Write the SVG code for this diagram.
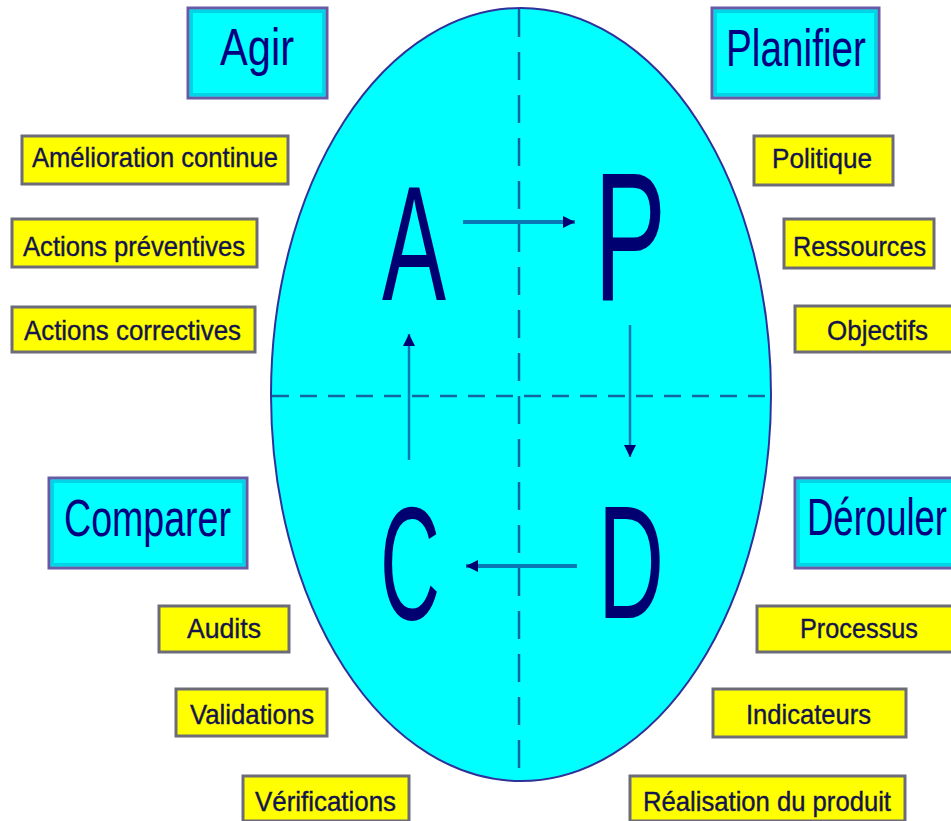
<svg xmlns="http://www.w3.org/2000/svg" width="951" height="821" viewBox="0 0 951 821">
<defs>
<style>
.cbox{fill:#00ffff;stroke:#6a5aa6;stroke-width:3}
.cin{fill:none;stroke:#00d4e6;stroke-width:3}
.ybox{fill:#ffff00;stroke:#6c6c78;stroke-width:3}
.big{font-family:"Liberation Sans",Arial,sans-serif;font-size:52px;fill:#000080}
.small{font-family:"Liberation Sans",Arial,sans-serif;font-size:28px;fill:#14144e;stroke:#14144e;stroke-width:0.4}
.letter{font-family:"Liberation Sans",Arial,sans-serif;fill:#000070}
.dash{stroke:#1464a0;stroke-width:2.5;fill:none}
.shaft{stroke:#0a78b4;fill:none}
</style>
<marker id="ah" markerUnits="userSpaceOnUse" markerWidth="14" markerHeight="14" refX="12" refY="7" orient="auto">
<path d="M0,1 L12,7 L0,13 Z" fill="#000070"/>
</marker>
</defs>
<rect width="951" height="821" fill="#ffffff"/>

<g id="cycle">
<ellipse cx="521" cy="394.5" rx="250" ry="386.5" fill="#00ffff" stroke="#30309a" stroke-width="2"/>
<line class="dash" x1="272" y1="396" x2="770" y2="396" stroke-dasharray="17 11"/>
<line class="dash" x1="519" y1="9" x2="519" y2="780" stroke-dasharray="28 15"/>
</g>

<g id="letter-A"><text class="letter" x="382" y="300" font-size="163" textLength="64" lengthAdjust="spacingAndGlyphs">A</text></g>
<g id="letter-P"><text class="letter" x="594" y="300" font-size="184" textLength="72" lengthAdjust="spacingAndGlyphs">P</text></g>
<g id="letter-C"><text class="letter" x="380" y="619" font-size="162" textLength="60" lengthAdjust="spacingAndGlyphs">C</text></g>
<g id="letter-D"><text class="letter" x="598" y="618" font-size="162" textLength="66" lengthAdjust="spacingAndGlyphs">D</text></g>

<g id="connectors">
<line class="shaft" x1="463" y1="222" x2="575" y2="222" stroke-width="4" marker-end="url(#ah)"/>
<line class="shaft" x1="630" y1="325" x2="630" y2="457" stroke-width="2.5" marker-end="url(#ah)"/>
<line class="shaft" x1="577" y1="566" x2="466" y2="566" stroke-width="4" marker-end="url(#ah)"/>
<line class="shaft" x1="409" y1="460" x2="409" y2="334" stroke-width="2.5" marker-end="url(#ah)"/>
</g>

<g id="agir">
<rect class="cbox" x="188" y="8" width="139" height="90"/>
<rect class="cin" x="191.5" y="11.5" width="132" height="83"/>
<text class="big" x="220" y="65" textLength="74" lengthAdjust="spacingAndGlyphs">Agir</text>
</g>
<g id="planifier">
<rect class="cbox" x="712" y="8" width="167" height="90"/>
<rect class="cin" x="715.5" y="11.5" width="160" height="83"/>
<text class="big" x="726" y="66" textLength="140" lengthAdjust="spacingAndGlyphs">Planifier</text>
</g>
<g id="comparer">
<rect class="cbox" x="49" y="478" width="198" height="90"/>
<rect class="cin" x="52.5" y="481.5" width="191" height="83"/>
<text class="big" x="64" y="536" textLength="167" lengthAdjust="spacingAndGlyphs">Comparer</text>
</g>
<g id="derouler">
<rect class="cbox" x="795" y="478" width="170" height="90"/>
<rect class="cin" x="798.5" y="481.5" width="163" height="83"/>
<text class="big" x="807" y="535" textLength="140" lengthAdjust="spacingAndGlyphs">Dérouler</text>
</g>

<g id="amelioration">
<rect class="ybox" x="22" y="136" width="266" height="48"/>
<text class="small" x="32" y="167" textLength="246" lengthAdjust="spacingAndGlyphs">Amélioration continue</text>
</g>
<g id="preventives">
<rect class="ybox" x="12" y="219" width="245" height="48"/>
<text class="small" x="23" y="256" textLength="222" lengthAdjust="spacingAndGlyphs">Actions préventives</text>
</g>
<g id="correctives">
<rect class="ybox" x="12" y="307" width="243" height="45"/>
<text class="small" x="24" y="340" textLength="217" lengthAdjust="spacingAndGlyphs">Actions correctives</text>
</g>
<g id="politique">
<rect class="ybox" x="754" y="136" width="139" height="49"/>
<text class="small" x="772" y="168" textLength="100" lengthAdjust="spacingAndGlyphs">Politique</text>
</g>
<g id="ressources">
<rect class="ybox" x="784" y="219" width="150" height="49"/>
<text class="small" x="793" y="256" textLength="133" lengthAdjust="spacingAndGlyphs">Ressources</text>
</g>
<g id="objectifs">
<rect class="ybox" x="795" y="306" width="170" height="46"/>
<text class="small" x="827" y="340" textLength="101" lengthAdjust="spacingAndGlyphs">Objectifs</text>
</g>
<g id="audits">
<rect class="ybox" x="159" y="606" width="130" height="46"/>
<text class="small" x="187" y="638" textLength="74" lengthAdjust="spacingAndGlyphs">Audits</text>
</g>
<g id="validations">
<rect class="ybox" x="176" y="689" width="151" height="47"/>
<text class="small" x="190" y="724" textLength="124" lengthAdjust="spacingAndGlyphs">Validations</text>
</g>
<g id="verifications">
<rect class="ybox" x="243" y="776" width="166" height="45"/>
<text class="small" x="255" y="811" textLength="141" lengthAdjust="spacingAndGlyphs">Vérifications</text>
</g>
<g id="processus">
<rect class="ybox" x="757" y="606" width="200" height="46"/>
<text class="small" x="800" y="638" textLength="118" lengthAdjust="spacingAndGlyphs">Processus</text>
</g>
<g id="indicateurs">
<rect class="ybox" x="713" y="689" width="193" height="48"/>
<text class="small" x="746" y="724" textLength="125" lengthAdjust="spacingAndGlyphs">Indicateurs</text>
</g>
<g id="realisation">
<rect class="ybox" x="630" y="776" width="275" height="45"/>
<text class="small" x="643" y="811" textLength="248" lengthAdjust="spacingAndGlyphs">Réalisation du produit</text>
</g>
</svg>
